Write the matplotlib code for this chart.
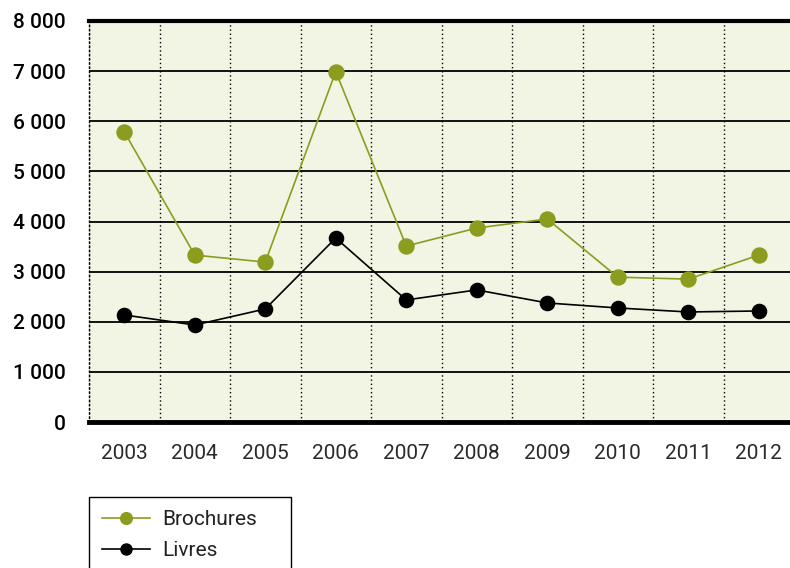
import matplotlib
matplotlib.use("Agg")
import matplotlib.pyplot as plt
from matplotlib.ticker import FixedLocator, FuncFormatter

years = ["2003", "2004", "2005", "2006", "2007", "2008", "2009", "2010", "2011", "2012"]
brochures = [5790, 3330, 3190, 6990, 3510, 3870, 4050, 2890, 2850, 3330]
livres = [2135, 1935, 2255, 3670, 2435, 2635, 2375, 2275, 2195, 2215]
yticks = [0, 1000, 2000, 3000, 4000, 5000, 6000, 7000, 8000]

olive = "#8c9c1f"
bg = "#f2f5e3"

plt.rcParams['font.family'] = ['Roboto', 'DejaVu Sans']

fig = plt.figure(figsize=(7.9, 5.68), dpi=100)
ax = fig.add_axes([89/790, 146/568, 705/790, 401/568])
ax.set_facecolor(bg)

x = list(range(len(years)))
ax.plot(x, brochures, color=olive, lw=1.2, marker='o', ms=10.8, label="Brochures", zorder=4)
ax.plot(x, livres, color='black', lw=1.2, marker='o', ms=10.2, label="Livres", zorder=4)

ax.set_xlim(-0.5, len(years) - 0.5)
ax.set_ylim(0, 8000)
ax.set_yticks(yticks)
ax.yaxis.set_major_formatter(FuncFormatter(lambda v, p: f"{int(v):,}".replace(",", " ")))
ax.set_xticks(x)
ax.set_xticklabels(years)
ax.xaxis.set_minor_locator(FixedLocator([i + 0.5 for i in range(-1, len(years))]))

ax.grid(axis='y', which='major', color='black', lw=1.3, zorder=1)
ax.grid(axis='x', which='minor', color='black', lw=1.0, ls=(0, (1, 2)), zorder=1)
ax.set_axisbelow(True)

ax.spines['right'].set_visible(False)
ax.spines['left'].set_linestyle((0, (1, 2)))
ax.spines['left'].set_linewidth(1.0)
ax.spines['top'].set_linewidth(3)
ax.spines['bottom'].set_linewidth(3.5)

ax.tick_params(axis='both', which='both', length=0)
ax.tick_params(axis='y', pad=17, labelsize=15)
ax.tick_params(axis='x', pad=16, labelsize=15, labelcolor='#2a2a2a')
for lbl in ax.get_yticklabels():
    lbl.set_fontweight('medium')
for lbl in ax.get_xticklabels():
    lbl.set_fontweight('normal')

leg = fig.legend(loc='upper left', bbox_to_anchor=(89/790, 1 - 497/568 - 0.01, 202/790, 0.01),
                 mode='expand',
                 frameon=True, fancybox=False, edgecolor='black', framealpha=1,
                 prop={'family': 'Roboto', 'weight': 'normal', 'size': 15},
                 handlelength=2.3, handletextpad=0.6, borderpad=0.62, labelspacing=0.6,
                 borderaxespad=0, markerscale=0.78)
leg.get_frame().set_linewidth(1.0)
for t in leg.get_texts():
    t.set_color('#222222')

fig.savefig("out.png", dpi=100)
